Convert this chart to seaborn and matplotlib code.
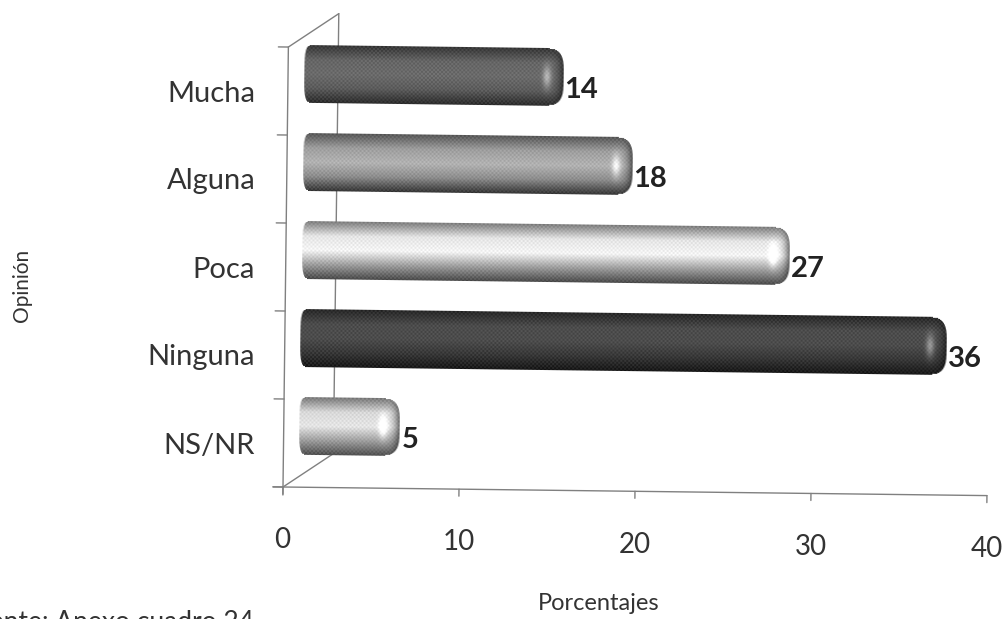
import matplotlib
matplotlib.use("Agg")
import matplotlib.pyplot as plt
import numpy as np
import pandas as pd
import seaborn as sns
from matplotlib.lines import Line2D
from matplotlib.transforms import Affine2D

OPINIONS = ["Mucha", "Alguna", "Poca", "Ninguna", "NS/NR"]
PERCENTS = [14, 18, 27, 36, 5]
X_TICKS = [0, 10, 20, 30, 40]

# grey levels across each cylinder, top edge to bottom edge
SHADES = {
    "Mucha": [0.22, 0.40, 0.42, 0.36, 0.18],
    "Alguna": [0.35, 0.62, 0.70, 0.55, 0.22],
    "Poca": [0.50, 0.90, 0.96, 0.62, 0.30],
    "Ninguna": [0.16, 0.30, 0.30, 0.22, 0.10],
    "NS/NR": [0.48, 0.85, 0.90, 0.62, 0.32],
}

W, H = 1005, 619
ORIGIN = (283, H - 487)
AXES_W, AXES_H = 704, 440
DEPTH = (50, 34)
BAR_SHIFT = (19, 17)
TILT_DEG = -0.7
INK = "#333333"
FONT = ["Lato", "DejaVu Sans"]


def cylinder(levels, w, h, left_cap=5, right_cap=14):
    # rgba image of one shaded bar, 1 image pixel per screen pixel
    t = np.linspace(-1, 1, h)
    profile = np.interp(t, np.linspace(-1, 1, len(levels)), levels)
    grey = np.tile(profile[:, None], (1, w))
    xx = np.arange(w)
    yy = np.arange(h)[:, None]

    # end cap: light spot, then falling off to the dark rim
    spot = np.exp(-(((xx - (w - 17)) / 4.0) ** 2))[None, :] * np.exp(-((t[:, None] / 0.4) ** 2))
    rim = np.clip((xx - (w - 13)) / 13.0, 0, 1)[None, :]
    grey = grey + 0.3 * spot
    grey = grey * (1 - 0.6 * rim**2)

    # scanned halftone look
    grey = grey + 0.035 * (((xx[None, :] // 2) + (yy // 2)) % 2 * 2 - 1)
    grey = np.clip(grey, 0, 1)

    edge = np.sqrt(np.clip(1 - np.abs(t) ** 4, 0, 1))[:, None]
    right = w - right_cap * (1 - edge)
    left = left_cap * (1 - edge)
    alpha = np.clip(right - xx[None, :], 0, 1) * np.clip(xx[None, :] - left + 1, 0, 1)

    img = np.dstack([grey, grey, grey, alpha])
    return img


sns.set_theme(style="white")
plt.rcParams["font.family"] = FONT

df = pd.DataFrame({"opinion": OPINIONS, "percent": PERCENTS})

fig = plt.figure(figsize=(W / 100, H / 100), dpi=100)
ax = fig.add_axes([ORIGIN[0] / W, ORIGIN[1] / H, AXES_W / W, AXES_H / H])
sns.barplot(data=df, y="opinion", x="percent", order=OPINIONS, width=0.65, color="#888888", ax=ax)
ax.set_xlim(0, 40)
ax.set_ylim(4.5, -0.5)
ax.set_autoscale_on(False)
sns.despine(ax=ax, left=True, bottom=True)
ax.patch.set_alpha(0)
ax.set_zorder(2)

tilt = Affine2D().rotate_deg_around(ORIGIN[0], ORIGIN[1], TILT_DEG)
bar_tf = Affine2D().translate(BAR_SHIFT[0], BAR_SHIFT[1]) + tilt


# frame of the fake 3d box, in screen pixels
def px_line(xs, ys, **kw):
    fig.add_artist(Line2D(xs, ys, transform=tilt, color="#808080", lw=1.0, zorder=1, **kw))


top = ORIGIN[1] + AXES_H
right = ORIGIN[0] + AXES_W
px_line([ORIGIN[0], ORIGIN[0]], [ORIGIN[1] - 8, top])
px_line([ORIGIN[0] - 10, right], [ORIGIN[1], ORIGIN[1]])
px_line([ORIGIN[0] + DEPTH[0]] * 2, [ORIGIN[1] + DEPTH[1], top + DEPTH[1]])
px_line([ORIGIN[0], ORIGIN[0] + DEPTH[0]], [ORIGIN[1], ORIGIN[1] + DEPTH[1]])
px_line([ORIGIN[0], ORIGIN[0] + DEPTH[0]], [top, top + DEPTH[1]])
for k in range(len(OPINIONS) + 1):
    y = ORIGIN[1] + k * AXES_H / len(OPINIONS)
    px_line([ORIGIN[0] - 10, ORIGIN[0]], [y, y])
for val in X_TICKS:
    x = ax.transData.transform((val, 0))[0]
    px_line([x, x], [ORIGIN[1] - 7, ORIGIN[1]])

# cylinders replace the flat bars, sized from the bars seaborn laid out
for patch, name, val in zip(ax.patches, OPINIONS, PERCENTS):
    box = patch.get_window_extent()
    patch.set_visible(False)
    x0, x1 = box.x0 - 3, box.x1 + 9
    w, h = int(round(x1 - x0)), int(round(box.height))
    ax.imshow(
        cylinder(SHADES[name], w, h),
        extent=(x0, x1, box.y0, box.y1),
        transform=bar_tf,
        aspect="auto",
        interpolation="bilinear",
        clip_on=False,
        zorder=3,
    )
    ax.set_xlim(0, 40)
    ax.set_ylim(4.5, -0.5)
    ax.text(
        x1 + 2,
        (box.y0 + box.y1) / 2 - 13,
        str(val),
        transform=bar_tf,
        ha="left",
        va="center",
        fontsize=21,
        fontweight="bold",
        color="#222222",
        clip_on=False,
        zorder=4,
    )

ax.set_xticks(X_TICKS)
ax.tick_params(axis="x", length=0, pad=29, labelsize=20, labelcolor=INK)
ax.tick_params(axis="y", length=0, pad=20, labelsize=21, labelcolor=INK)
for lab in ax.get_xticklabels():
    lab.set_transform(lab.get_transform() + tilt)

ax.set_xlabel("")
ax.set_ylabel("")
fig.text(599 / W, 1 - 603 / H, "Porcentajes", ha="center", va="center", fontsize=17, color=INK)
fig.text(22 / W, 1 - 285 / H, "Opinión", ha="center", va="center", rotation=90, fontsize=15, color=INK)
fig.text(254 / W, 1 - 623 / H, "Fuente: Anexo cuadro 24", ha="right", va="center", fontsize=19, color=INK)

fig.savefig("out.png", dpi=100)
plt.close(fig)
